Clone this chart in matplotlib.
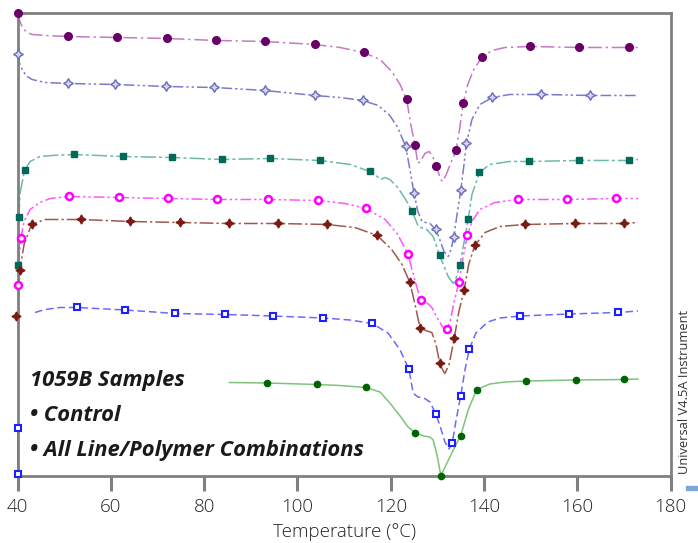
import matplotlib
matplotlib.use("Agg")
import matplotlib.pyplot as plt

# ---------------- data (Temperature in degC, heat flow in arbitrary units) -------------
p_T = [40.1, 40.5, 41.2, 42.0, 43.1, 45.9, 50.8, 61.3, 72.0, 82.5, 93.0, 103.7, 109.1, 114.2,
       117.7, 120.2, 122.0, 123.4, 124.3, 125.2, 125.8, 126.5, 127.3, 128.2, 129.0, 129.8, 130.5,
       131.0, 131.8, 132.9, 134.0, 134.8, 135.5, 136.5, 137.8, 139.5, 141.7, 144.5, 149.8, 160.3,
       171.0, 172.9]
p_Y = [46.2, 45.4, 44.7, 44.3, 44.1, 44.0, 43.9, 43.8, 43.7, 43.5, 43.4, 43.1, 42.8, 42.3,
       41.6, 40.4, 39.1, 37.6, 35.1, 33.0, 31.2, 31.5, 32.2, 32.4, 31.9, 30.9, 29.9,
       29.4, 30.0, 31.3, 32.5, 34.8, 37.2, 39.1, 40.6, 41.8, 42.5, 42.8, 42.9, 42.8,
       42.8, 42.8]
p_mT = [40.1, 50.8, 61.3, 72.0, 82.5, 93.0, 103.7, 114.2, 123.4, 125.2, 129.8, 134.0, 135.5,
        139.5, 149.8, 160.4, 171.1]
p_mY = [46.2, 43.9, 43.8, 43.7, 43.5, 43.4, 43.1, 42.3, 37.6, 33.0, 30.9, 32.5, 37.2,
        41.8, 42.9, 42.8, 42.8]

s_T = [40.0, 40.3, 41.0, 41.8, 43.1, 45.9, 50.8, 61.0, 71.8, 82.2, 93.0, 103.7, 109.1, 114.0,
       117.3, 119.8, 121.5, 123.2, 124.1, 125.0, 125.8, 126.7, 127.5, 128.4, 129.2, 129.7, 130.5,
       131.4, 132.3, 132.9, 133.5, 134.2, 135.0, 135.7, 136.2, 137.4, 139.1, 141.8, 145.5, 152.3,
       162.8, 173.0]
s_Y = [42.1, 41.4, 40.6, 40.0, 39.6, 39.3, 39.2, 39.1, 38.9, 38.8, 38.5, 38.0, 37.8, 37.5,
       37.0, 36.0, 34.8, 32.9, 30.6, 28.2, 26.4, 25.4, 25.3, 25.2, 24.8, 24.6, 23.6,
       22.4, 21.9, 22.6, 23.8, 26.1, 28.5, 31.1, 33.2, 35.6, 37.1, 37.8, 38.1, 38.1,
       38.0, 38.0]
s_mT = [40.0, 50.8, 61.0, 71.8, 82.2, 93.0, 103.7, 114.0, 123.2, 125.0, 129.7, 133.5, 135.0,
        136.2, 141.8, 152.3, 162.8]
s_mY = [42.1, 39.2, 39.1, 38.9, 38.8, 38.5, 38.0, 37.5, 32.9, 28.2, 24.6, 23.8, 28.5,
        33.2, 37.8, 38.1, 38.0]

t_T = [40.0, 40.3, 40.5, 41.5, 42.7, 44.8, 47.4, 52.1, 62.7, 73.2, 83.8, 94.1, 104.8, 111.3,
       115.5, 116.8, 117.9, 118.7, 119.8, 121.5, 123.2, 124.6, 125.9, 127.7, 129.1, 130.5, 132.3,
       133.4, 133.9, 134.8, 135.7, 136.6, 137.4, 139.0, 141.2, 145.5, 149.7, 160.3, 171.0, 173.0]
t_Y = [20.8, 25.8, 28.1, 30.5, 31.4, 31.9, 32.0, 32.1, 31.9, 31.8, 31.6, 31.7, 31.5, 31.1,
       30.4, 30.0, 29.6, 29.8, 29.6, 28.8, 27.6, 26.4, 24.9, 24.6, 23.9, 22.0, 19.9,
       19.2, 19.6, 21.0, 23.3, 25.6, 28.1, 30.3, 31.1, 31.4, 31.4, 31.5, 31.5, 31.6]
t_mT = [40.0, 40.3, 41.5, 52.1, 62.7, 73.2, 83.8, 94.1, 104.8, 115.5, 124.6, 130.5, 134.8,
        136.6, 139.0, 149.7, 160.3, 171.0]
t_mY = [21.0, 25.8, 30.5, 32.1, 31.9, 31.8, 31.6, 31.7, 31.5, 30.4, 26.4, 22.0, 21.0,
        25.6, 30.3, 31.4, 31.5, 31.5]

m_T = [40.0, 40.3, 40.7, 41.4, 42.7, 44.8, 47.0, 51.0, 61.7, 72.3, 82.8, 93.7, 104.4, 110.2,
       114.7, 118.8, 121.5, 123.7, 125.0, 126.4, 127.7, 128.8, 129.9, 131.2, 132.0, 132.7, 133.7,
       134.6, 135.5, 136.4, 137.4, 139.1, 142.3, 147.2, 157.8, 168.2, 173.0]
m_Y = [18.8, 21.6, 23.7, 25.4, 26.6, 27.3, 27.7, 27.9, 27.8, 27.7, 27.6, 27.6, 27.5, 27.2,
       26.7, 25.6, 24.1, 22.1, 19.8, 17.5, 17.3, 16.8, 15.8, 14.8, 14.6, 15.4, 17.6,
       19.3, 21.8, 24.0, 25.4, 26.6, 27.3, 27.6, 27.6, 27.7, 27.7]
m_mT = [40.0, 40.7, 51.0, 61.7, 72.3, 82.8, 93.7, 104.4, 114.7, 123.7, 126.4, 132.0, 134.6,
        136.4, 147.2, 157.8, 168.2]
m_mY = [19.0, 23.7, 27.9, 27.8, 27.7, 27.6, 27.6, 27.5, 26.7, 22.1, 17.5, 14.6, 19.3,
        24.0, 27.6, 27.6, 27.7]

b_T = [40.0, 40.5, 41.4, 43.0, 45.9, 53.5, 64.1, 74.8, 85.3, 95.8, 106.3, 112.3, 117.1, 120.2,
       122.4, 124.1, 125.2, 126.3, 127.5, 128.8, 129.7, 130.5, 131.2, 131.6, 132.5, 133.6, 134.6,
       135.7, 136.7, 138.0, 140.2, 143.4, 148.7, 159.5, 170.0, 173.0]
b_Y = [15.6, 20.5, 23.1, 25.1, 25.6, 25.6, 25.4, 25.3, 25.2, 25.2, 25.1, 24.8, 24.0, 22.6,
       21.1, 19.3, 17.1, 14.7, 14.5, 14.3, 13.1, 11.2, 10.5, 10.2, 11.1, 13.7, 16.4,
       18.5, 21.1, 23.0, 24.3, 24.9, 25.1, 25.2, 25.2, 25.3]
b_mT = [39.6, 40.5, 43.0, 53.5, 64.1, 74.8, 85.3, 95.8, 106.3, 117.1, 124.1, 126.3, 130.5,
        133.6, 135.7, 138.0, 148.7, 159.5, 170.0]
b_mY = [15.9, 20.5, 25.1, 25.6, 25.4, 25.3, 25.2, 25.2, 25.1, 24.0, 19.3, 14.7, 11.2,
        13.7, 18.5, 23.0, 25.1, 25.2, 25.2]

q_T0 = [40.0, 40.0]
q_Y0 = [0.2, 4.8]
q_T = [43.75, 45.9, 49.1, 52.7, 63.1, 73.75, 84.5, 94.75, 105.5, 111.25, 116.0, 119.4, 122.0,
       123.9, 124.8, 125.8, 127.1, 128.4, 129.6, 130.5, 131.6, 132.5, 133.2, 134.0, 135.0, 135.9,
       136.8, 138.25, 140.8, 143.4, 147.7, 158.2, 168.75, 173.0]
q_Y = [16.3, 16.6, 16.8, 16.8, 16.55, 16.2, 16.1, 15.95, 15.75, 15.55, 15.2, 14.25, 12.55,
       10.6, 8.25, 7.85, 7.75, 7.35, 6.2, 5.05, 3.35, 2.65, 3.3, 5.55, 8.0, 10.55,
       12.6, 14.25, 15.35, 15.75, 15.95, 16.15, 16.3, 16.45]
q_mT = [52.7, 63.1, 73.75, 84.5, 94.75, 105.5, 116.0, 123.9, 129.6, 133.2, 135.0, 136.8,
        147.7, 158.2, 168.75]
q_mY = [16.8, 16.55, 16.2, 16.1, 15.95, 15.75, 15.2, 10.6, 6.2, 3.3, 8.0, 12.6,
        15.95, 16.15, 16.3]

g_T = [85.4, 93.4, 104.1, 109.1, 114.6, 117.7, 119.8, 122.0, 123.7, 125.2, 127.0, 128.4, 129.1,
       129.9, 130.75, 132.0, 133.4, 135.0, 136.6, 138.4, 141.25, 144.5, 149.0, 159.7, 170.0, 173.0]
g_Y = [9.3, 9.25, 9.1, 9.0, 8.8, 8.35, 7.25, 5.95, 4.85, 4.3, 3.95, 3.85, 3.55,
       2.05, 0.0, 1.2, 2.55, 4.0, 6.55, 8.6, 9.15, 9.35, 9.45, 9.55, 9.6, 9.65]
g_mT = [93.4, 104.1, 114.6, 125.2, 130.75, 135.0, 138.4, 149.0, 159.7, 170.0]
g_mY = [9.25, 9.1, 8.8, 4.3, 0.0, 4.0, 8.6, 9.45, 9.55, 9.6]

x_ticks = [40, 60, 80, 100, 120, 140, 160, 180]

# ---------------- figure -----------------
fig = plt.figure(figsize=(6.98, 5.43), dpi=100)
ax = fig.add_axes([0.0251, 0.1243, 0.9358, 0.8518])
ax.set_xlim(40, 180)
ax.set_ylim(0, 46.25)

star4 = (4, 1, 0)

ax.plot(p_T, p_Y, color="#c47ac4", lw=1.1, dashes=(9, 2.5, 1.5, 2.5), zorder=2)
ax.plot(p_mT, p_mY, ls="none", marker="o", ms=5.5, color="#680068", zorder=3, clip_on=False)

ax.plot(s_T, s_Y, color="#7a7acc", lw=1.1, dashes=(7, 2, 1.5, 2, 1.5, 2), zorder=2)
ax.plot(s_mT, s_mY, ls="none", marker=star4, ms=7, mfc="#d6d6f2", mec="#6a6ab8", mew=1.0,
        zorder=3, clip_on=False)

ax.plot(t_T, t_Y, color="#6fb8aa", lw=1.1, dashes=(10, 2, 2, 2), zorder=2)
ax.plot(t_mT, t_mY, ls="none", marker="s", ms=5, color="#006a5a", zorder=3, clip_on=False)

ax.plot(m_T, m_Y, color="#ff55ff", lw=1.1, dashes=(7, 2, 1.5, 2, 1.5, 2), zorder=2)
ax.plot(m_mT, m_mY, ls="none", marker="o", ms=5, mfc="white", mec="#ff00ff", mew=1.8,
        zorder=3, clip_on=False)

ax.plot(b_T, b_Y, color="#a0584c", lw=1.1, dashes=(9, 2, 1.5, 2), zorder=2)
ax.plot(b_mT, b_mY, ls="none", marker=star4, ms=6.5, color="#7a1a14", zorder=3, clip_on=False)

ax.plot(q_T0, q_Y0, color="#101070", lw=1.2, zorder=2, clip_on=False)
ax.plot(q_T0, q_Y0, ls="none", marker="s", ms=5, mfc="white", mec="#2020ff", mew=1.5,
        zorder=3, clip_on=False)
ax.plot(q_T, q_Y, color="#6a6aff", lw=1.1, dashes=(5, 2.5), zorder=2)
ax.plot(q_mT, q_mY, ls="none", marker="s", ms=5, mfc="white", mec="#2020ff", mew=1.5,
        zorder=3, clip_on=False)

ax.plot(g_T, g_Y, color="#7cc47c", lw=1.1, zorder=2)
ax.plot(g_mT, g_mY, ls="none", marker="o", ms=4.5, color="#006400", zorder=3, clip_on=False)

# frame / ticks
for sp in ax.spines.values():
    sp.set_color("#808080")
    sp.set_linewidth(2.0)
ax.set_yticks([])
ax.set_xticks(x_ticks)
ax.set_xticklabels([str(t) for t in x_ticks], fontsize=13.5, color="#222222",
                   fontfamily="Open Sans", fontweight="light")
ax.tick_params(axis="x", direction="out", length=11, width=2.2, color="#808080", pad=5)
ax.set_xlabel("Temperature (\u00b0C)", fontsize=13.5, color="#222222", fontfamily="Open Sans",
              fontweight="light", labelpad=5)

# annotations
txt_kw = dict(transform=ax.transAxes, fontsize=15.8, fontweight="bold", fontstyle="italic",
              fontfamily="Open Sans", color="#1a1a1a", va="center", ha="left")
ax.text(0.019, 0.205, "1059B Samples", **txt_kw)
ax.text(0.019, 0.129, "\u2022 Control", **txt_kw)
ax.text(0.019, 0.053, "\u2022 All Line/Polymer Combinations", **txt_kw)

fig.text(0.981, 0.279, "Universal V4.5A Instrument", rotation=90, fontsize=9.3,
         fontfamily="Open Sans", color="#333333", ha="center", va="center")
fig.patches.append(plt.Rectangle((0.983, 0.097), 0.02, 0.008, transform=fig.transFigure,
                                 color="#7fa6d6", figure=fig))

fig.savefig("out.png", dpi=100)
